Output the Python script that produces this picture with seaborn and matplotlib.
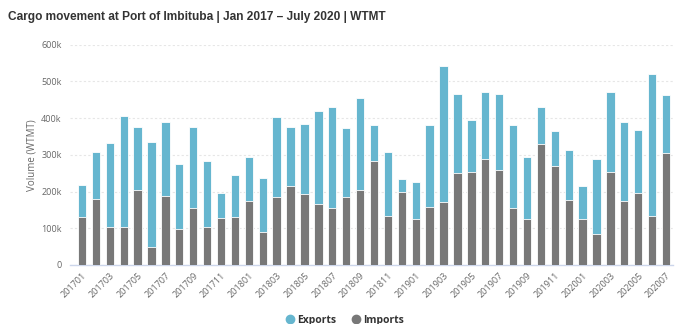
import matplotlib
matplotlib.use("Agg")
import matplotlib.pyplot as plt
import seaborn as sns
import pandas as pd
from matplotlib.lines import Line2D

months = [f"{y}{m:02d}" for y in (2017, 2018, 2019) for m in range(1, 13)] + \
         [f"2020{m:02d}" for m in range(1, 8)]

totals = [217, 309, 331, 407, 376, 336, 389, 275, 376, 283, 197, 244,
          293, 237, 404, 376, 383, 420, 429, 373, 456, 381, 308, 234,
          226, 381, 543, 467, 394, 471, 467, 382, 295, 429, 364, 314,
          214, 290, 470, 390, 367, 521, 463]
imports = [131, 180, 104, 104, 205, 48, 189, 98, 156, 104, 128, 131,
           175, 89, 186, 214, 194, 167, 156, 186, 204, 283, 134, 198,
           126, 158, 172, 251, 254, 289, 260, 154, 125, 330, 270, 178,
           125, 84, 253, 174, 196, 133, 304]
exports = [t - i for t, i in zip(totals, imports)]

yticks = [0, 100000, 200000, 300000, 400000, 500000, 600000]
ytick_labels = ["0", "100k", "200k", "300k", "400k", "500k", "600k"]

df = pd.DataFrame({
    "month": months,
    "imports": [v * 1000 for v in imports],
    "total": [(e + i) * 1000 for e, i in zip(exports, imports)],
})

sns.set_theme(style="white")
plt.rcParams["font.family"] = ["Open Sans", "DejaVu Sans"]

EXP = "#66b6cf"
IMP = "#787878"

fig = plt.figure(figsize=(6.8, 3.24), dpi=100)
ax = fig.add_axes([70 / 680, 1 - 265 / 324, 603 / 680, (265 - 44.7) / 324])

sns.barplot(data=df, x="month", y="total", color=EXP, width=0.6, ax=ax,
            saturation=1, edgecolor="white", linewidth=0.6, zorder=2)
sns.barplot(data=df, x="month", y="imports", color=IMP, width=0.6, ax=ax,
            saturation=1, edgecolor="white", linewidth=0.6, zorder=3)

ax.set_ylim(0, 600000)
ax.set_xlim(-0.86, 42.5)
ax.set_yticks(yticks)
ax.set_yticklabels(ytick_labels, fontsize=6.5, color="#666666")
ax.yaxis.grid(True, color="#e6e6e6", linestyle=(0, (2, 2)), linewidth=0.8)
ax.set_axisbelow(True)

pos = list(range(0, len(months), 2))
ax.set_xticks(pos)
ax.set_xticklabels([months[p] for p in pos], rotation=45, ha="right",
                   rotation_mode="anchor", fontsize=6.5, color="#666666")
ax.tick_params(axis="x", length=0, pad=4)
ax.tick_params(axis="y", length=0, pad=6)

for s in ("top", "right", "left"):
    ax.spines[s].set_visible(False)
ax.spines["bottom"].set_color("#ccd6eb")
ax.spines["bottom"].set_linewidth(1)

ax.set_xlabel("")
ax.set_ylabel("Volume (WTMT)", fontsize=7, color="#666666", labelpad=3)

fig.text(8 / 680, 1 - 17 / 324, "Cargo movement at Port of Imbituba | Jan 2017 \u2013 July 2020 | WTMT",
         fontsize=8.6, fontweight="bold", color="#333333", va="center", ha="left",
         family=["Liberation Sans", "DejaVu Sans"])

handles = [Line2D([0], [0], marker="o", linestyle="", markersize=6,
                  markerfacecolor=EXP, markeredgecolor=EXP, label="Exports"),
           Line2D([0], [0], marker="o", linestyle="", markersize=6,
                  markerfacecolor=IMP, markeredgecolor=IMP, label="Imports")]
leg = fig.legend(handles=handles, loc="center", bbox_to_anchor=(344 / 680, 1 - 320 / 324),
                 ncol=2, frameon=False, fontsize=7.5, handletextpad=0.1, columnspacing=1.3,
                 handlelength=1.2)
for t in leg.get_texts():
    t.set_fontweight("bold")
    t.set_color("#333333")

fig.savefig("out.png", dpi=100)
